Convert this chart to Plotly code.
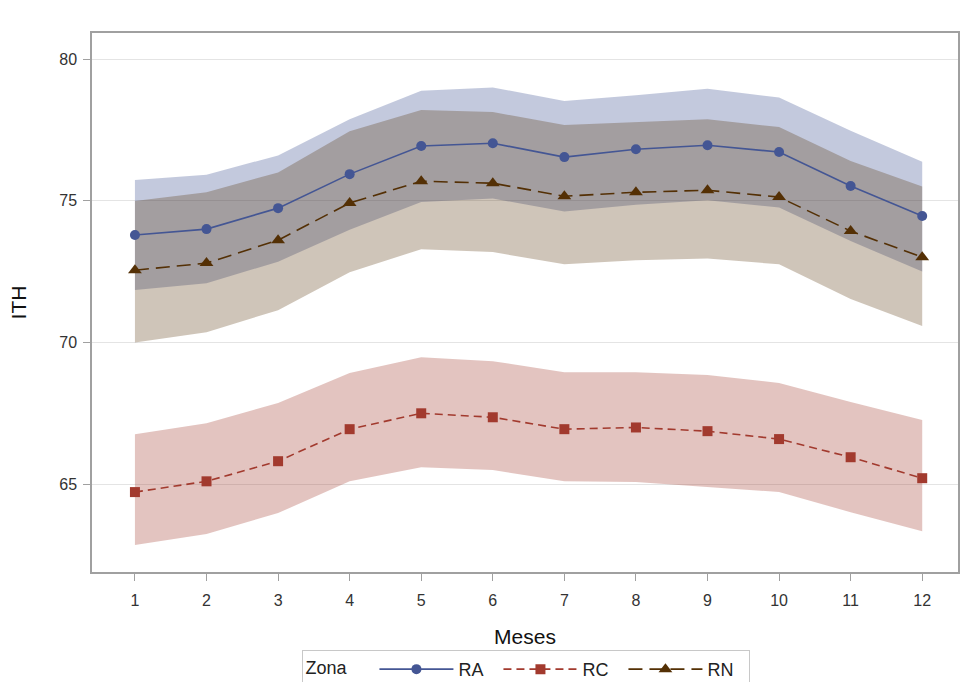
import plotly.graph_objects as go

# Monthly ITH means with their confidence bands by zone
meses = [1, 2, 3, 4, 5, 6, 7, 8, 9, 10, 11, 12]

ra_media = [73.79, 74.00, 74.74, 75.94, 76.93, 77.03, 76.54, 76.82, 76.96, 76.72, 75.52, 74.46]
ra_inf = [71.85, 72.09, 72.85, 73.98, 74.96, 75.08, 74.62, 74.86, 75.02, 74.76, 73.58, 72.50]
ra_sup = [75.73, 75.92, 76.60, 77.88, 78.88, 79.00, 78.52, 78.72, 78.95, 78.64, 77.47, 76.38]

rc_media = [64.72, 65.10, 65.81, 66.94, 67.50, 67.36, 66.94, 67.00, 66.87, 66.59, 65.95, 65.21]
rc_inf = [62.85, 63.24, 63.98, 65.10, 65.60, 65.50, 65.10, 65.08, 64.90, 64.72, 64.01, 63.34]
rc_sup = [66.76, 67.15, 67.86, 68.92, 69.48, 69.34, 68.95, 68.95, 68.85, 68.57, 67.90, 67.26]

rn_media = [72.55, 72.80, 73.61, 74.92, 75.69, 75.62, 75.16, 75.30, 75.37, 75.13, 73.93, 73.01]
rn_inf = [70.00, 70.36, 71.14, 72.48, 73.29, 73.19, 72.76, 72.90, 72.96, 72.76, 71.53, 70.58]
rn_sup = [74.99, 75.30, 76.00, 77.45, 78.20, 78.13, 77.67, 77.78, 77.88, 77.60, 76.40, 75.50]

y_ticks = [65, 70, 75, 80]

NBSP = "\u00a0"

zonas = [
    ("RA", ra_media, ra_inf, ra_sup, "#445694", "rgba(68,86,148,0.32)", "circle", "solid", 10),
    ("RC", rc_media, rc_inf, rc_sup, "#A23A2E", "rgba(162,58,46,0.30)", "square", "8px,5px", 10),
    ("RN", rn_media, rn_inf, rn_sup, "#543005", "rgba(84,48,5,0.28)", "triangle-up", "14px,7px", 12),
]

fig = go.Figure()

# Bands first so the mean lines sit on top
for nombre, media, inf, sup, color, relleno, simbolo, guion, tam in zonas:
    fig.add_trace(go.Scatter(
        x=meses + meses[::-1],
        y=sup + inf[::-1],
        fill="toself",
        fillcolor=relleno,
        line=dict(width=0),
        mode="lines",
        hoverinfo="skip",
        showlegend=False,
    ))

for nombre, media, inf, sup, color, relleno, simbolo, guion, tam in zonas:
    fig.add_trace(go.Scatter(
        x=meses,
        y=media,
        name=nombre + NBSP * 2,
        mode="lines+markers",
        line=dict(color=color, width=1.6, dash=guion),
        marker=dict(symbol=simbolo, size=tam, color=color),
    ))

fig.update_layout(
    width=960,
    height=682,
    margin=dict(l=92, r=2, t=33, b=110, autoexpand=False),
    paper_bgcolor="white",
    plot_bgcolor="white",
    font=dict(family="Arial, Liberation Sans, sans-serif", color="#333333"),
    legend=dict(
        orientation="h",
        xref="container",
        yref="container",
        x=0.315,
        xanchor="left",
        y=0.047,
        yanchor="top",
        title=dict(text="Zona" + NBSP * 4, font=dict(size=18, color="#222222")),
        font=dict(size=18, color="#222222"),
        bordercolor="#c8c8c8",
        borderwidth=1,
        bgcolor="white",
        itemwidth=74,
    ),
    xaxis=dict(
        range=[0.4, 12.5],
        tickvals=meses,
        ticks="outside",
        ticklen=7,
        tickcolor="#a0a0a0",
        tickfont=dict(size=16, color="#333333"),
        ticklabelstandoff=6,
        showgrid=False,
        zeroline=False,
        showline=True,
        linecolor="#a0a0a0",
        linewidth=1.5,
        mirror=True,
        automargin=False,
        title=dict(text="Meses", font=dict(size=21, color="#111111"), standoff=21),
    ),
    yaxis=dict(
        range=[61.9, 80.92],
        tickvals=y_ticks,
        ticks="outside",
        ticklen=7,
        tickcolor="#a0a0a0",
        tickfont=dict(size=16, color="#333333"),
        ticklabelstandoff=3,
        showgrid=True,
        gridcolor="#e4e4e4",
        gridwidth=1.2,
        zeroline=False,
        showline=True,
        linecolor="#a0a0a0",
        linewidth=1.5,
        mirror=True,
        automargin=False,
        title=dict(text="ITH", font=dict(size=21, color="#111111"), standoff=27),
    ),
)

fig.write_html("out.html")
